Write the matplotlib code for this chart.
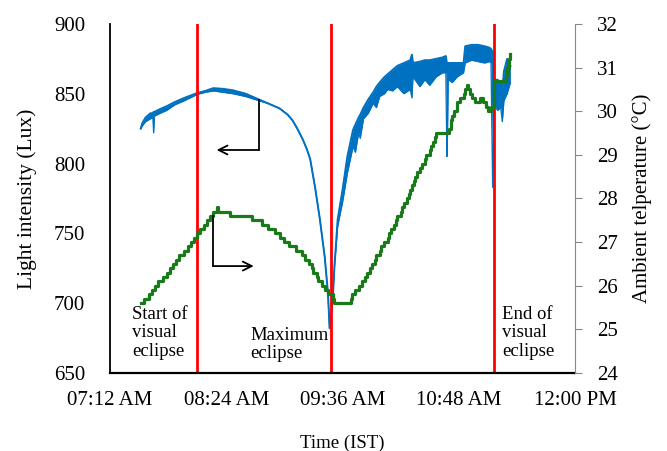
import pandas as pd
import matplotlib
matplotlib.use('Agg')
import matplotlib.pyplot as plt
import matplotlib.dates as mdates

day = '2019-12-26 '

# light intensity (Lux): upper and lower edge of the noisy trace
lux_time = ['07:31', '07:32', '07:34', '07:37', '07:38:30', '07:39', '07:39:30', '07:43',
            '07:47', '07:52', '07:58', '08:06', '08:11', '08:16', '08:22', '08:28',
            '08:36', '08:44', '08:50', '08:57', '09:02', '09:05', '09:08', '09:11:30',
            '09:14', '09:16', '09:19', '09:22', '09:25', '09:27', '09:28', '09:30',
            '09:31', '09:33', '09:36', '09:39', '09:42:30', '09:44', '09:46', '09:47',
            '09:49', '09:52', '09:55', '09:57', '09:59', '10:02', '10:04', '10:07',
            '10:10', '10:14', '10:18', '10:19', '10:19:40', '10:24', '10:27', '10:30',
            '10:34', '10:38', '10:40', '10:40:40', '10:41', '10:41:30', '10:44', '10:47',
            '10:51', '10:52', '10:56', '11:00', '11:04', '11:07', '11:08', '11:09',
            '11:10', '11:12', '11:14', '11:15', '11:16', '11:18', '11:20']
lux_hi = [825, 829, 833, 836, 836, 837, 837, 839,
          841, 844, 847, 850.5, 852, 854, 853.5, 852.5,
          850, 846, 843, 839.5, 835, 831, 825, 817,
          810, 803, 783, 760, 733, 707, 682, 704,
          726, 760, 781, 805, 824, 828, 833, 835,
          840, 846, 851, 855, 858, 862, 864, 867,
          870, 872, 874, 878, 872, 873, 874, 874,
          875, 876, 877, 872, 872, 872, 872, 872,
          872, 884, 885, 885, 884, 883, 882, 880,
          860, 860, 858, 852, 866, 875, 870]
lux_lo = [825, 827, 830, 832, 833, 822, 834, 836,
          838, 842, 845, 849.5, 851, 852, 851, 850,
          848, 845, 843, 839.5, 835, 831, 825, 817,
          810, 803, 783, 760, 733, 707, 682, 704,
          726, 755, 772, 793, 812, 808, 822, 818,
          832, 836, 843, 840, 848, 850, 853, 852,
          855, 850, 853, 847, 862, 855, 860, 856,
          862, 865, 865, 805, 817, 860, 858, 862,
          865, 872, 874, 873, 872, 873, 872, 783,
          843, 838, 840, 830, 845, 850, 858]

# ambient temperature (deg C)
temp_time = ['07:31', '07:33', '07:36', '07:38', '07:40', '07:42', '07:45', '07:47',
             '07:49', '07:51', '07:53', '07:55', '07:58', '08:00', '08:02', '08:04',
             '08:06', '08:08', '08:10', '08:12', '08:14', '08:16', '08:18', '08:19',
             '08:26', '08:40', '08:46', '08:50', '08:54', '08:57', '09:00', '09:03',
             '09:07', '09:11', '09:13', '09:15', '09:17', '09:18', '09:20', '09:21',
             '09:23', '09:25', '09:27', '09:30', '09:31', '09:41', '09:42', '09:44',
             '09:46', '09:48', '09:50', '09:51', '09:53', '09:54', '09:56', '09:57',
             '09:59', '10:00', '10:02', '10:04', '10:05', '10:06', '10:08', '10:09',
             '10:10', '10:12', '10:13', '10:14', '10:16', '10:17', '10:18', '10:19',
             '10:20', '10:21', '10:22', '10:24', '10:25', '10:27', '10:28', '10:30',
             '10:31', '10:32', '10:33', '10:34', '10:42', '10:43', '10:44', '10:45',
             '10:47', '10:49', '10:51', '10:52', '10:53', '10:54', '10:55', '10:56',
             '10:58', '11:01', '11:03', '11:05', '11:06', '11:08', '11:10', '11:17',
             '11:18', '11:19', '11:20']
temp_val = [25.6, 25.7, 25.8, 25.9, 26.0, 26.1, 26.2, 26.3,
            26.4, 26.5, 26.6, 26.7, 26.8, 26.9, 27.0, 27.1,
            27.2, 27.3, 27.4, 27.5, 27.6, 27.7, 27.8, 27.7,
            27.6, 27.5, 27.4, 27.3, 27.2, 27.1, 27.0, 26.9,
            26.8, 26.7, 26.6, 26.5, 26.4, 26.3, 26.2, 26.1,
            26.0, 25.9, 25.8, 25.7, 25.6, 25.7, 25.8, 25.9,
            26.0, 26.1, 26.2, 26.3, 26.4, 26.5, 26.6, 26.7,
            26.8, 26.9, 27.0, 27.1, 27.2, 27.3, 27.4, 27.5,
            27.6, 27.7, 27.8, 27.9, 28.0, 28.1, 28.2, 28.3,
            28.4, 28.5, 28.6, 28.7, 28.8, 28.9, 29.0, 29.1,
            29.2, 29.3, 29.4, 29.5, 29.6, 29.8, 29.9, 30.0,
            30.2, 30.3, 30.4, 30.5, 30.6, 30.5, 30.4, 30.3,
            30.2, 30.3, 30.2, 30.1, 30.0, 30.1, 30.7, 30.8,
            31.0, 31.2, 31.3]

event_time = ['08:06', '09:29', '11:10']
event_label = ['Start of\nvisual\neclipse', 'Maximum\neclipse', 'End of\nvisual\neclipse']

tick_time = ['07:12', '08:24', '09:36', '10:48', '12:00']

def ts(lst):
    return pd.to_datetime([day + t for t in lst], format='mixed')

plt.rcParams['font.family'] = 'Liberation Serif'
plt.rcParams['font.size'] = 15

fig = plt.figure(figsize=(6.67, 4.51), dpi=100)
ax = fig.add_axes([0.165, 0.173, 0.697, 0.774])
ax2 = ax.twinx()

tl = ts(lux_time)
ax.fill_between(tl, lux_lo, lux_hi, color='#0070C0', lw=0, zorder=1)
ax.plot(tl, lux_hi, color='#0070C0', lw=1.4, zorder=1)
ax.plot(tl, lux_lo, color='#0070C0', lw=0.9, zorder=1)

for t in ts(event_time):
    ax.axvline(t, color='#FF0000', lw=2, zorder=2)

ax2.plot(ts(temp_time), temp_val, color='#187A18', lw=2.3, drawstyle='steps-post')

ticks = ts(tick_time)
ax.set_xlim(ticks[0], ticks[-1])
ax.set_xticks(ticks)
ax.xaxis.set_major_formatter(mdates.DateFormatter('%I:%M %p'))
ax.set_ylim(650, 900)
ax.set_yticks(range(650, 901, 50))
ax2.set_ylim(24, 32)
ax2.set_yticks(range(24, 33))

ax.tick_params(axis='x', length=0, pad=13)
ax.tick_params(axis='y', length=0, pad=18)
ax2.tick_params(axis='y', length=5, color='#888888', pad=11)

for a in (ax, ax2):
    a.spines['top'].set_visible(False)
ax.spines['right'].set_visible(False)
ax2.spines['left'].set_visible(False)
ax2.spines['bottom'].set_visible(False)
ax2.spines['right'].set_color('#888888')
ax.spines['left'].set_linewidth(1.3)
ax.spines['bottom'].set_linewidth(1.6)

ax.set_xlabel('Time (IST)', fontsize=13.5, labelpad=18)
ax.set_ylabel('Light intensity (Lux)', fontsize=15.5, labelpad=12)
ax2.set_ylabel('Ambient telperature (°C)', fontsize=15, labelpad=10)

# arrows telling which axis each curve uses
a1 = pd.Timestamp(day + '08:44')
ax.plot([a1, a1], [845.6, 809.7], color='black', lw=1.3, zorder=3)
ax.annotate('', xy=(pd.Timestamp(day + '08:18'), 809.7), xytext=(a1, 809.7),
            arrowprops=dict(arrowstyle='->', color='black', lw=1.3,
                            shrinkA=0, shrinkB=0, mutation_scale=16))
a2 = pd.Timestamp(day + '08:16')
ax2.plot([a2, a2], [27.6, 26.45], color='black', lw=1.3)
ax2.annotate('', xy=(pd.Timestamp(day + '08:41'), 26.45), xytext=(a2, 26.45),
             arrowprops=dict(arrowstyle='->', color='black', lw=1.3,
                             shrinkA=0, shrinkB=0, mutation_scale=16))

# event labels
ax2.text(0.047, 0.192, event_label[0], transform=ax2.transAxes, fontsize=13.5,
         va='top', ha='left', linespacing=1.1)
ax2.text(0.301, 0.133, event_label[1], transform=ax2.transAxes, fontsize=13.5,
         va='top', ha='left', linespacing=1.1)
ax2.text(0.843, 0.192, event_label[2], transform=ax2.transAxes, fontsize=13.5,
         va='top', ha='left', linespacing=1.1)

fig.savefig('out.png', dpi=100)
